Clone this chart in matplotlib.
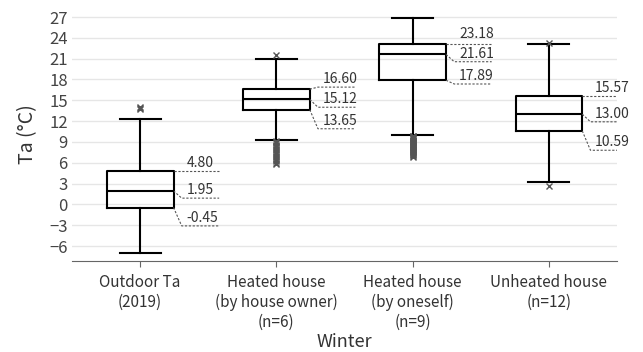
import numpy as np
import matplotlib.pyplot as plt

plt.rcParams['font.family'] = ['Noto Sans CJK KR', 'DejaVu Sans']

categories = ["Outdoor Ta\n(2019)", "Heated house\n(by house owner)\n(n=6)",
              "Heated house\n(by oneself)\n(n=9)", "Unheated house\n(n=12)"]
q1 = [-0.45, 13.65, 17.89, 10.59]
med = [1.95, 15.12, 21.61, 13.00]
q3 = [4.80, 16.60, 23.18, 15.57]
whislo = [-7.0, 9.3, 10.0, 3.2]
whishi = [12.3, 20.9, 26.9, 23.1]
fliers = [
    [13.8, 13.9, 14.0],
    [21.6, 9.2, 9.0, 8.8, 8.6, 8.4, 8.2, 8.0, 7.8, 7.6, 7.4, 7.2, 7.0, 6.8,
     6.6, 6.4, 6.2, 6.0, 5.8],
    [9.9, 9.8, 9.7, 9.6, 9.5, 9.4, 9.3, 9.2, 9.1, 9.0, 8.9, 8.8, 8.7, 8.6,
     8.5, 8.4, 8.3, 8.2, 8.1, 8.0, 7.9, 7.8, 7.7, 7.6, 7.5, 7.4, 7.3, 7.2,
     7.1, 7.0, 6.9],
    [23.2, 2.65],
]
# y of the dashed leader ends for each label (q3, median, q1)
label_y = [[4.8, 0.9, -3.1], [16.9, 14.0, 10.9], [23.35, 20.56, 17.35],
           [15.66, 11.9, 7.8]]

fig = plt.figure(figsize=(6.43, 3.52), dpi=100)
ax = fig.add_axes([0.112, 0.2585, 0.8476, 0.7215])

stats = []
for i in range(len(categories)):
    stats.append(dict(med=med[i], q1=q1[i], q3=q3[i], whislo=whislo[i],
                      whishi=whishi[i], fliers=fliers[i]))

pos = np.arange(len(categories))
ax.bxp(stats, positions=pos, widths=0.49, showfliers=True,
       boxprops=dict(color="black", linewidth=1.5),
       medianprops=dict(color="black", linewidth=1.5),
       whiskerprops=dict(color="black", linewidth=1.5),
       capprops=dict(color="black", linewidth=1.5),
       capwidths=0.3,
       flierprops=dict(marker="x", markersize=4, markeredgecolor="#555555",
                       markeredgewidth=1.0, linestyle="none"))

for i in range(len(categories)):
    xe = pos[i] + 0.245
    for val, ly in zip([q3[i], med[i], q1[i]], label_y[i]):
        if abs(val - ly) < 0.2:
            ax.plot([xe, pos[i] + 0.58], [val, val], ls=(0, (2, 1.5)),
                    color="#555555", lw=0.8)
        else:
            ax.plot([xe, xe + 0.06, pos[i] + 0.58], [val, ly, ly],
                    ls=(0, (2, 1.5)), color="#555555", lw=0.8)
        ax.text(pos[i] + 0.34, ly + 0.15, f"{val:.2f}", fontsize=10,
                color="#333333", va="bottom", ha="left")

ax.set_xlim(-0.5, 3.5)
ax.set_ylim(-8.16, 28.44)
ax.set_yticks(np.arange(-6, 28, 3))
ax.set_xticks(pos)
ax.set_xticklabels(categories, fontsize=11, color="#333333",
                   linespacing=1.25)
ax.tick_params(axis="y", length=0, labelsize=12, labelcolor="#444444", pad=3)
ax.tick_params(axis="x", length=4, color="#666666", pad=5)
ax.grid(axis="y", color="#e6e6e6", lw=1)
ax.set_axisbelow(True)
for s in ["top", "right", "left"]:
    ax.spines[s].set_visible(False)
ax.spines["bottom"].set_color("#666666")
ax.set_ylabel("Ta (°C)", fontsize=14, color="#333333", labelpad=8)
fig.text(0.536, 0.004, "Winter", fontsize=13, color="#333333",
         ha="center", va="bottom")

fig.savefig("out.png", dpi=100)
